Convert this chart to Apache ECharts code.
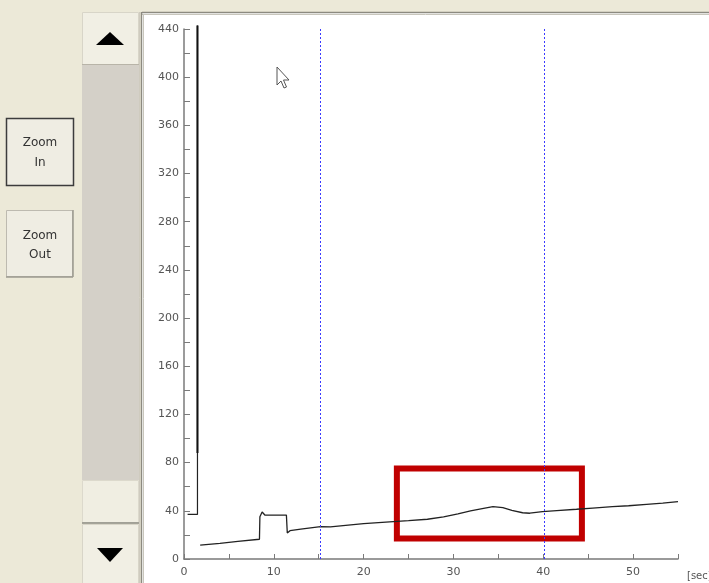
<!DOCTYPE html>
<html>
<head>
<meta charset="utf-8">
<script src="https://cdn.jsdelivr.net/npm/echarts@6/dist/echarts.min.js"></script>
<style>html,body{margin:0;padding:0;background:#ece9d8}#c{width:709px;height:583px}</style>
</head>
<body>
<div id="c"></div>
<script>
// ---- data ----
const spikeX = [0.4, 1.5, 1.5];
const spikeY = [37, 37, 443];
const spikeThickX = [1.5, 1.5];
const spikeThickY = [88, 443];
const traceX = [1.8, 4, 6, 8.4, 8.45, 8.7, 9, 11.4, 11.5, 11.8, 13, 15.2, 16.3, 18, 20, 23.3, 25, 27.1, 28.9, 30.5, 31.9, 33.5, 34.4, 35.5, 36.5, 37.7, 38.5, 39.9, 41.5, 43.7, 45.5, 47.7, 49.5, 51.5, 53.3, 55];
const traceY = [11.6, 13, 14.6, 16.4, 35, 39, 36.5, 36.5, 21.6, 23.5, 24.8, 26.8, 26.6, 28, 29.3, 31, 31.8, 33, 35, 37.5, 40, 42.2, 43.4, 42.6, 40.3, 38.4, 38, 39.3, 40.2, 41.3, 42.3, 43.4, 44.2, 45.4, 46.4, 47.6];
const cursorLinesX = [15.2, 40.1];
const boxX = [23.7, 44.3];
const boxY = [17, 75.1];
const xAxisName = '[sec]';
const buttonLabels = ['Zoom\nIn', 'Zoom\nOut'];

const zip = (a, b) => a.map((v, i) => [v, b[i]]);

const chart = echarts.init(document.getElementById('c'), null, {renderer: 'canvas'});
const font = 'DejaVu Sans';
chart.setOption({
  backgroundColor: '#ece9d8',
  animation: false,
  grid: {left: 184, right: 31, top: 29, bottom: 24, containLabel: false, outerBoundsMode: 'none'},
  xAxis: {
    type: 'value', min: 0, max: 55, interval: 5,
    name: xAxisName, nameLocation: 'end', nameGap: 9,
    nameTextStyle: {color: '#555', fontFamily: font, fontSize: 10, align: 'left', verticalAlign: 'top', padding: [12, 0, 0, 0]},
    axisLine: {show: true, onZero: false, lineStyle: {color: '#7a7a7a', width: 1.5}},
    axisTick: {show: true, inside: true, length: 5, lineStyle: {color: '#7a7a7a'}},
    axisLabel: {color: '#555', fontFamily: font, fontSize: 11, margin: 8,
      formatter: v => (v % 10 === 0 ? String(v) : '')},
    splitLine: {show: false}
  },
  yAxis: {
    type: 'value', min: 0, max: 440, interval: 20,
    axisLine: {show: true, onZero: false, lineStyle: {color: '#7a7a7a', width: 1.5}},
    axisTick: {show: true, inside: true, length: 6, lineStyle: {color: '#7a7a7a'}},
    axisLabel: {color: '#555', fontFamily: font, fontSize: 11, margin: 5,
      formatter: v => (v % 40 === 0 ? String(v) : '')},
    splitLine: {show: false}
  },
  series: [
    {
      type: 'line', data: zip(traceX, traceY), showSymbol: false, symbol: 'none',
      lineStyle: {color: '#222', width: 1.3},
      markLine: {
        silent: true, symbol: 'none', label: {show: false},
        lineStyle: {color: '#3a3aff', width: 1, type: [2, 2]},
        data: cursorLinesX.map(x => ({xAxis: x}))
      },
      markArea: {
        silent: true,
        itemStyle: {color: 'rgba(0,0,0,0)', borderColor: '#c00000', borderWidth: 6},
        data: [[{coord: [boxX[0], boxY[0]]}, {coord: [boxX[1], boxY[1]]}]]
      }
    },
    {
      type: 'line', data: zip(spikeX, spikeY), showSymbol: false, symbol: 'none', clip: false,
      lineStyle: {color: '#222', width: 1.2}
    },
    {
      type: 'line', data: zip(spikeThickX, spikeThickY), showSymbol: false, symbol: 'none', clip: false,
      lineStyle: {color: '#111', width: 2}
    }
  ],
  graphic: [
    // white plot panel
    {type: 'rect', z: -100, shape: {x: 142, y: 12, width: 567, height: 571}, style: {fill: '#ffffff'}},
    {type: 'line', z: -90, shape: {x1: 142, y1: 12.5, x2: 709, y2: 12.5}, style: {stroke: '#8c8a80', lineWidth: 1.5}},
    {type: 'line', z: -90, shape: {x1: 142, y1: 14.5, x2: 709, y2: 14.5}, style: {stroke: '#c8c6bc', lineWidth: 1}},
    {type: 'line', z: -90, shape: {x1: 141.5, y1: 12, x2: 141.5, y2: 583}, style: {stroke: '#8c8a80', lineWidth: 1.5}},
    {type: 'line', z: -90, shape: {x1: 143.5, y1: 14, x2: 143.5, y2: 583}, style: {stroke: '#c8c6bc', lineWidth: 1}},
    // scrollbar
    {type: 'rect', z: -90, shape: {x: 82, y: 65, width: 57, height: 415}, style: {fill: '#d4d0c8'}},
    {type: 'rect', z: -90, shape: {x: 82.5, y: 12.5, width: 56, height: 52}, style: {fill: '#f1efe4', stroke: '#d8d5c8', lineWidth: 1}},
    {type: 'line', z: -89, shape: {x1: 82, y1: 64.5, x2: 139, y2: 64.5}, style: {stroke: '#b8b4a8', lineWidth: 1}},
    {type: 'polygon', z: -88, shape: {points: [[96, 45], [124, 45], [110, 32]]}, style: {fill: '#000'}},
    {type: 'rect', z: -90, shape: {x: 82.5, y: 480.5, width: 56, height: 42}, style: {fill: '#f0eee2', stroke: '#dcd9cc', lineWidth: 1}},
    {type: 'line', z: -89, shape: {x1: 82, y1: 523, x2: 139, y2: 523}, style: {stroke: '#8e8c84', lineWidth: 1.5}},
    {type: 'rect', z: -90, shape: {x: 82.5, y: 524.5, width: 56, height: 60}, style: {fill: '#f1efe4', stroke: '#d8d5c8', lineWidth: 1}},
    {type: 'polygon', z: -88, shape: {points: [[97, 548], [123, 548], [110, 562]]}, style: {fill: '#000'}},
    {type: 'line', z: -89, shape: {x1: 139.5, y1: 12, x2: 139.5, y2: 583}, style: {stroke: '#cfcbbf', lineWidth: 1}},
    // Zoom In button (focused, dark border)
    {type: 'rect', z: -90, shape: {x: 6.5, y: 118.5, width: 67, height: 67}, style: {fill: '#efede3', stroke: '#3c3c3c', lineWidth: 1.5}},
    {type: 'text', z: -80, x: 40, y: 153, style: {text: buttonLabels[0], fill: '#333', font: '12px "DejaVu Sans"', align: 'center', verticalAlign: 'middle', lineHeight: 20}},
    // Zoom Out button (raised)
    {type: 'rect', z: -90, shape: {x: 6.5, y: 210.5, width: 66, height: 66}, style: {fill: '#efede3', stroke: '#bdbab0', lineWidth: 1}},
    {type: 'line', z: -89, shape: {x1: 6, y1: 277, x2: 73, y2: 277}, style: {stroke: '#9d9a90', lineWidth: 1.5}},
    {type: 'line', z: -89, shape: {x1: 73, y1: 210, x2: 73, y2: 277}, style: {stroke: '#9d9a90', lineWidth: 1.5}},
    {type: 'text', z: -80, x: 40, y: 245, style: {text: buttonLabels[1], fill: '#333', font: '12px "DejaVu Sans"', align: 'center', verticalAlign: 'middle', lineHeight: 19}},
    // mouse cursor
    {type: 'polygon', z: 100, shape: {points: [[277, 67], [277, 85], [281, 81], [284, 88], [286.5, 87], [283.5, 80], [289, 80]]}, style: {fill: '#ffffff', stroke: '#555', lineWidth: 1}}
  ]
});
</script>
</body>
</html>
